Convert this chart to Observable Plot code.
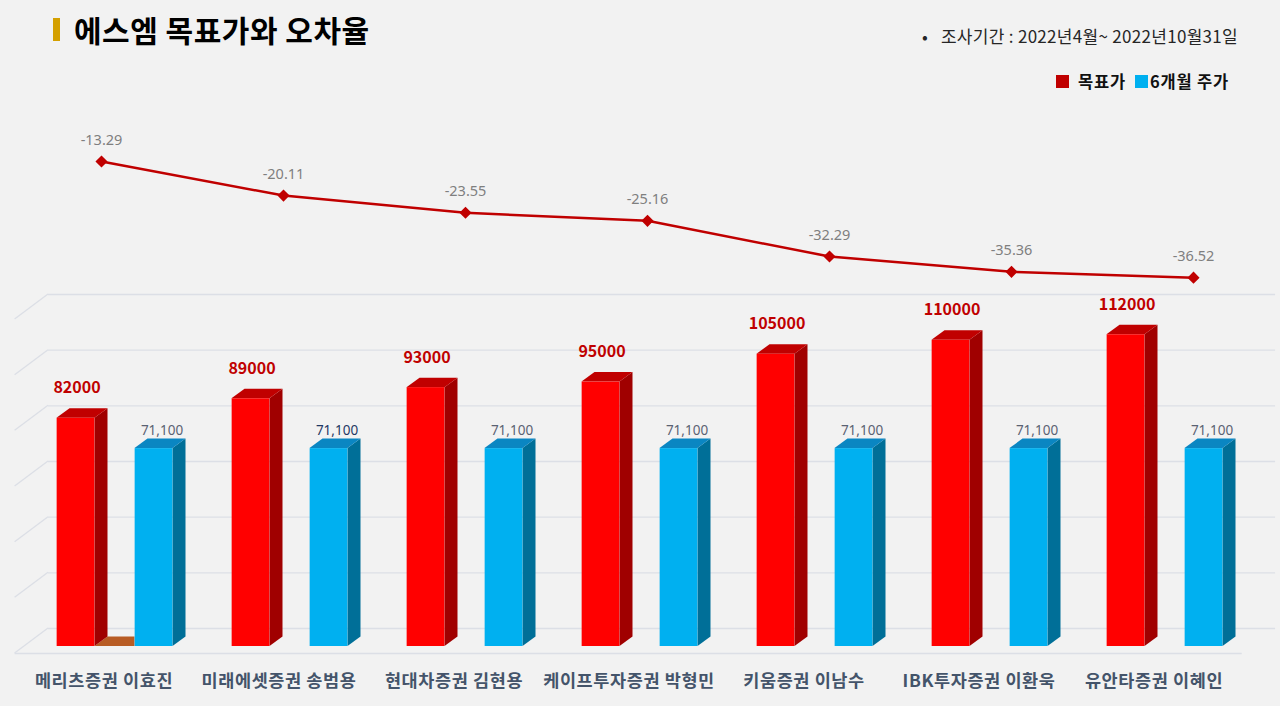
<!DOCTYPE html>
<html>
<head>
<meta charset="utf-8">
<script src="https://cdn.jsdelivr.net/npm/d3@7"></script>
<script src="https://cdn.jsdelivr.net/npm/@observablehq/plot@0.6"></script>
<style>
  html, body { margin: 0; padding: 0; background: #f2f2f2; }
  #wrap { position: relative; width: 1280px; height: 706px; background: #f2f2f2; overflow: hidden;
          font-family: "Noto Sans CJK KR", "Noto Sans", sans-serif; }
  .layer { position: absolute; left: 0; top: 0; }
  #title { position: absolute; left: 53px; top: 9px; display: flex; align-items: center; }
  #title .mark { width: 7px; height: 23px; background: #d4a000; margin-right: 14px; }
  #title .txt { font-size: 30px; font-weight: 700; color: #000; letter-spacing: 0.5px; line-height: 40px; }
  #period { position: absolute; right: 42px; top: 24px; font-size: 17px; letter-spacing: 0.3px; color: #262626; line-height: 24px; }
  #period .dot { position: absolute; left: -19px; top: 0; }
  #legend { position: absolute; right: 51px; top: 70px; display: flex; align-items: center; font-size: 16.5px; letter-spacing: 0.8px; font-weight: 700; color: #111; line-height: 22px; }
  #legend .sw { width: 13px; height: 13px; display: inline-block; margin-right: 9px; }
</style>
</head>
<body>
<div id="wrap">
  <div id="title"><div class="mark"></div><div class="txt">에스엠 목표가와 오차율</div></div>
  <div id="period"><span class="dot">•</span>조사기간 : 2022년4월~ 2022년10월31일</div>
  <div id="legend">
    <span class="sw" style="background:#c00000"></span><span style="margin-right:9px">목표가</span>
    <span class="sw" style="background:#00b0f0;margin-right:2px"></span><span>6개월 주가</span>
  </div>
</div>
<script>
// ---------- data ----------
const analysts = ["메리츠증권 이효진", "미래에셋증권 송범용", "현대차증권 김현용", "케이프투자증권 박형민", "키움증권 이남수", "IBK투자증권 이환욱", "유안타증권 이혜인"];
const targetPrices = [82000, 89000, 93000, 95000, 105000, 110000, 112000];
const sixMonthPrices = [71100, 71100, 71100, 71100, 71100, 71100, 71100];
const errorRates = [-13.29, -20.11, -23.55, -25.16, -32.29, -35.36, -36.52];
const gridTicks = [0, 20000, 40000, 60000, 80000, 100000, 120000];
const floorPatchAnalysts = ["메리츠증권 이효진"];

// ---------- layout / style ----------
const W = 1280, H = 706;
const FONT = "Noto Sans CJK KR";
const NUMFONT = "'Noto Sans', 'Noto Sans CJK KR'";
const BAR_ML = 14.6, BAR_MR = 38.3;
const BW = (W - BAR_ML - BAR_MR) / analysts.length;
const FRONT_W = 38, RED_OFF = -47, BLUE_OFF = 31;   // front-face left offset from band centre
const DEPTH_X = 13, DEPTH_Y = 9.5;                  // bar depth
const WALL_X = 33.4, WALL_Y = 18, FLOOR_Y = 7;      // back wall offset

const redRows = analysts.map((a, i) => ({name: a, value: targetPrices[i]}));
const blueRows = analysts.map((a, i) => ({name: a, value: sixMonthPrices[i], idx: i}));
const errRows = analysts.map((a, i) => ({name: a, value: errorRates[i]}));

const insetL = off => BW / 2 + off;
const insetR = off => BW - (BW / 2 + off) - FRONT_W;

function threeD(index, scales) {
  const {x, y} = scales;
  const bw = typeof x.bandwidth === "function" ? x.bandwidth() : BW;
  const g = d3.create("svg:g");
  const poly = (pts, fill) => g.append("path")
    .attr("d", "M" + pts.map(p => p.join(",")).join("L") + "Z").attr("fill", fill);
  const x0 = x.range ? Math.min(...x.range()) : BAR_ML;
  for (const t of gridTicks) {
    g.append("line").attr("x1", x0).attr("y1", y(t) + FLOOR_Y)
      .attr("x2", x0 + WALL_X).attr("y2", y(t) - WALL_Y)
      .attr("stroke", "#dcdfe6").attr("stroke-width", 1.3);
  }
  const base = y(0);
  for (const a of floorPatchAnalysts) {
    const c = x(a) + bw / 2;
    const rr = c + RED_OFF + FRONT_W, bl = c + BLUE_OFF;
    poly([[rr, base], [rr + DEPTH_X, base - DEPTH_Y], [bl, base - DEPTH_Y], [bl, base]], "#b85c24");
  }
  const series = [
    {rows: redRows, off: RED_OFF, side: "#a00000", top: "#c00000"},
    {rows: blueRows, off: BLUE_OFF, side: "#006f98", top: "#0a86c2"}
  ];
  for (const s of series) {
    for (const r of s.rows) {
      const c = x(r.name) + bw / 2;
      const l = c + s.off, rt = l + FRONT_W, tp = y(r.value);
      poly([[rt, tp], [rt + DEPTH_X, tp - DEPTH_Y], [rt + DEPTH_X, base - DEPTH_Y], [rt, base]], s.side);
      poly([[l, tp], [l + DEPTH_X, tp - DEPTH_Y], [rt + DEPTH_X, tp - DEPTH_Y], [rt, tp]], s.top);
    }
  }
  return g.node();
}

const barPlot = Plot.plot({
  width: W, height: H,
  marginLeft: BAR_ML, marginRight: BAR_MR, marginTop: 312, marginBottom: 60,
  style: {background: "transparent", fontFamily: FONT, overflow: "visible"},
  x: {type: "band", domain: analysts, padding: 0, axis: null},
  y: {domain: [0, 120000], axis: null},
  marks: [
    Plot.ruleY(gridTicks, {dx: WALL_X, dy: -WALL_Y, stroke: "#dcdfe6", strokeWidth: 1.3}),
    Plot.ruleY([0], {dy: FLOOR_Y, stroke: "#dcdfe6", strokeWidth: 1.3}),
    threeD,
    Plot.barY(redRows, {x: "name", y: "value", fill: "#ff0000", insetLeft: insetL(RED_OFF), insetRight: insetR(RED_OFF)}),
    Plot.barY(blueRows, {x: "name", y: "value", fill: "#00b0f0", insetLeft: insetL(BLUE_OFF), insetRight: insetR(BLUE_OFF)}),
    Plot.text(redRows, {x: "name", y: "value", text: d => String(d.value), dx: RED_OFF + FRONT_W / 2 + 1, dy: -30,
      fill: "#c00000", fontWeight: "bold", fontSize: 16}),
    Plot.text(blueRows, {x: "name", y: "value", text: d => d3.format(",")(d.value), dx: BLUE_OFF + FRONT_W / 2 + 8, dy: -18,
      fill: d => d.idx === 1 ? "#1f3864" : "#5a6272", fontSize: 13.5, fontFamily: NUMFONT}),
    Plot.text(analysts, {x: d => d, y: () => 0, dy: 35, fill: "#44546a", fontWeight: "bold", fontSize: 17.5,
      stroke: "none", style: "letter-spacing:0.6px"})
  ]
});

const y0 = 161, PX_PER = 5.0;
const linePlot = Plot.plot({
  width: W, height: H,
  marginLeft: 99, marginRight: 86,
  style: {background: "transparent", fontFamily: FONT, overflow: "visible"},
  x: {type: "point", domain: analysts, padding: 0, axis: null},
  y: {domain: [-40, -10], axis: null, range: [y0 + (errorRates[0] + 40) * PX_PER, y0 - (-10 - errorRates[0]) * PX_PER]},
  marks: [
    Plot.line(errRows, {x: "name", y: "value", stroke: "#c00000", strokeWidth: 2.5}),
    Plot.dot(errRows, {x: "name", y: "value", symbol: "diamond2", r: 4.5, fill: "#c00000", stroke: "#c00000"}),
    Plot.text(errRows, {x: "name", y: "value", text: d => d.value.toFixed(2), dy: -21, fill: "#7f7f7f", fontSize: 14.5, fontFamily: NUMFONT})
  ]
});

for (const p of [barPlot, linePlot]) {
  const d = document.createElement("div");
  d.className = "layer";
  d.appendChild(p);
  document.getElementById("wrap").appendChild(d);
}
// letter spacing for category labels
barPlot.querySelectorAll("text").forEach(t => {
  if (analysts.includes(t.textContent)) t.setAttribute("letter-spacing", "0.6");
});
</script>
</body>
</html>
